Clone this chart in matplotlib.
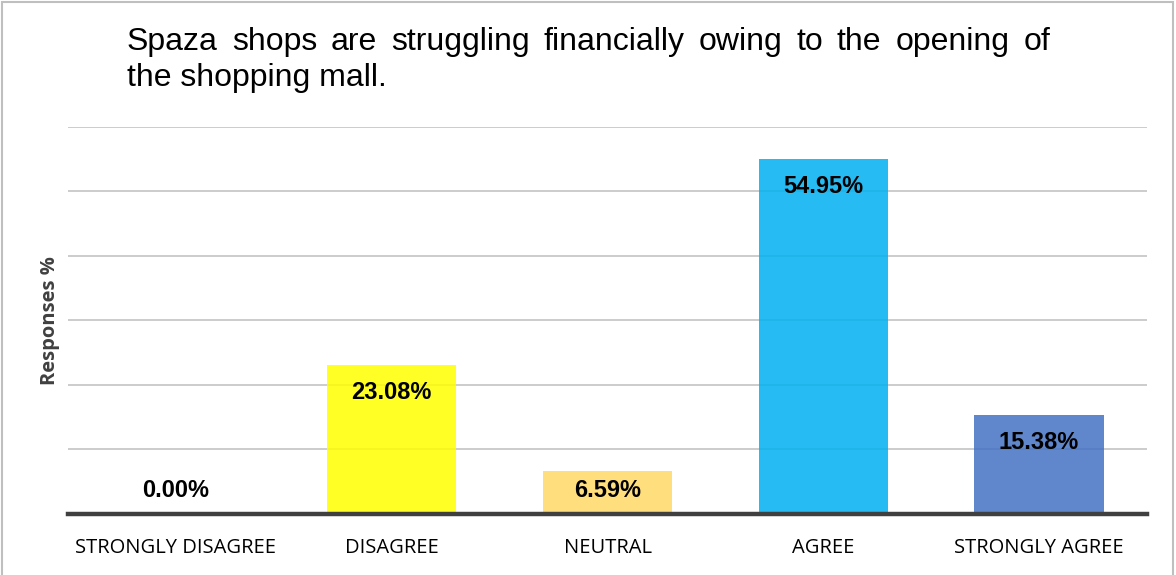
import matplotlib
matplotlib.use("Agg")
import matplotlib.pyplot as plt
from matplotlib.patches import Rectangle

categories = ["STRONGLY DISAGREE", "DISAGREE", "NEUTRAL", "AGREE", "STRONGLY AGREE"]
values = [0.00, 23.08, 6.59, 54.95, 15.38]
colors = ["#5B87CB", "#FFFF00", "#FFD966", "#00B0F0", "#4472C4"]
title_lines = [
    "Spaza shops are struggling financially owing to the opening of",
    "the shopping mall.",
]

W, H = 1176, 575
fig = plt.figure(figsize=(W / 100, H / 100), dpi=100)
fig.patch.set_facecolor("white")
fig.patches.append(Rectangle((0.0015, -0.01), 0.996, 1.007, transform=fig.transFigure,
                             fill=False, edgecolor="#BFBFBF", linewidth=1.5))

ax = fig.add_axes([68 / W, 1 - 514 / H, (1147 - 68) / W, (514 - 126.5) / H])
x = range(len(categories))
bars = ax.bar(x, values, width=0.6, color=colors, alpha=0.85, zorder=3)
ax.set_xlim(-0.5, len(categories) - 0.5)
ax.set_ylim(0, 60)
ax.set_yticks(range(10, 61, 10))
ax.yaxis.grid(True, color="#C8C8C8", linewidth=1.3, zorder=1)
ax.tick_params(axis="y", left=False, labelleft=False)
ax.tick_params(axis="x", length=0, pad=17)
ax.set_xticks(list(x))
ax.set_xticklabels(categories, fontsize=14.5, family="Open Sans")
for s in ["top", "right", "left"]:
    ax.spines[s].set_visible(False)
ax.spines["bottom"].set_color("#404040")
ax.spines["bottom"].set_linewidth(3.2)
ax.spines["bottom"].set_zorder(4)
ax.set_ylabel("Responses %", fontsize=14.5, fontweight="bold", family="Open Sans",
              color="#404040", labelpad=6)

# value labels inside the top of each bar, kept above the axis for short bars
for xi, v in zip(x, values):
    ax.text(xi, max(v - 4.3, 3.6), f"{v:.2f}%", ha="center", va="center",
            fontsize=17, fontweight="bold", family="Liberation Sans", zorder=5)

# two-line title, first line justified between fixed edges
left_px, right_px = 127, 1050
title_kw = dict(fontsize=23, family="Liberation Sans", va="baseline", ha="left")
renderer = fig.canvas.get_renderer()
words = title_lines[0].split()
texts = [fig.text(0, 1 - 50 / H, w, **title_kw) for w in words]
widths = [t.get_window_extent(renderer).width for t in texts]
gap = (right_px - left_px - sum(widths)) / (len(words) - 1)
pos = left_px
for t, w in zip(texts, widths):
    t.set_x(pos / W)
    pos += w + gap
fig.text(left_px / W, 1 - 86 / H, title_lines[1], **title_kw)

fig.savefig("out.png", dpi=100)
